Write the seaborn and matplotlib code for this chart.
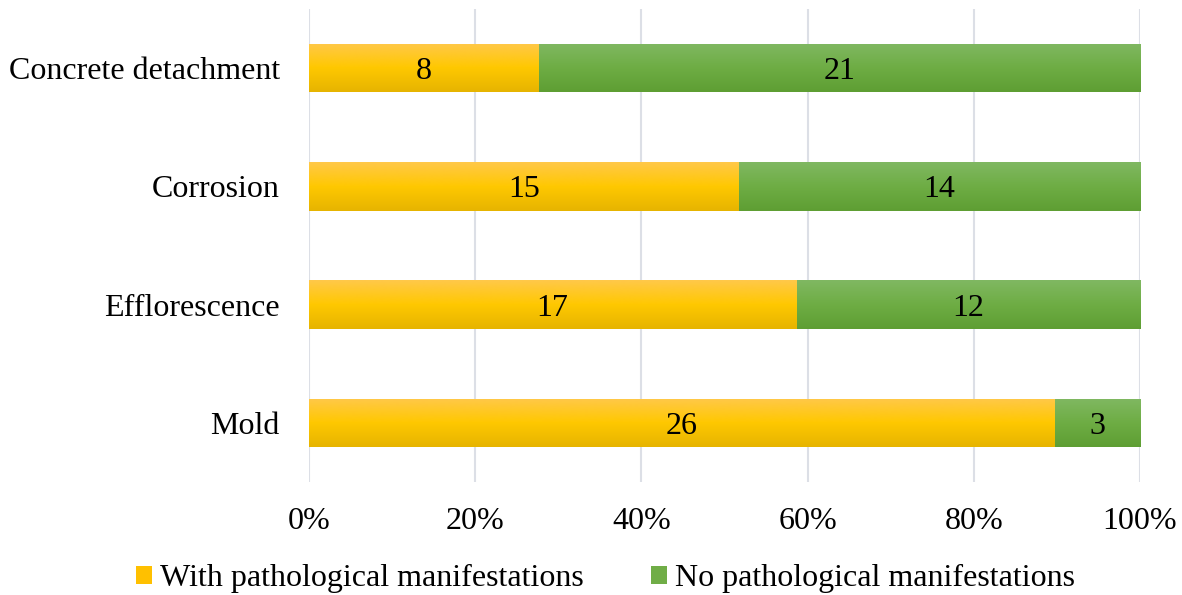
import numpy as np
import pandas as pd
import matplotlib
matplotlib.use("Agg")
import matplotlib.pyplot as plt
import seaborn as sns
from matplotlib.colors import LinearSegmentedColormap
from matplotlib.patches import Patch

categories = ["Concrete detachment", "Corrosion", "Efflorescence", "Mold"]
with_path = [8, 15, 17, 26]
no_path = [21, 14, 12, 3]
xticks = [0, 20, 40, 60, 80, 100]
xticklabels = ["0%", "20%", "40%", "60%", "80%", "100%"]
series_names = ["With pathological manifestations", "No pathological manifestations"]

sns.set_theme(style="white")
plt.rcParams['font.family'] = ['Liberation Serif', 'DejaVu Serif']
plt.rcParams['text.color'] = 'black'
plt.rcParams['xtick.color'] = 'black'
plt.rcParams['ytick.color'] = 'black'

FS = 23

totals = [a + b for a, b in zip(with_path, no_path)]
df = pd.DataFrame({
    "cat": categories,
    "with_pct": [a / t * 100 for a, t in zip(with_path, totals)],
    "total_pct": [100.0] * len(categories),
})

fig, ax = plt.subplots(figsize=(11.82, 5.95), dpi=100)
fig.subplots_adjust(left=0.2614, right=0.9645, top=0.985, bottom=0.19)

green_cmap = LinearSegmentedColormap.from_list("g", ["#5E9E33", "#6EAD44", "#80B862"])
yellow_cmap = LinearSegmentedColormap.from_list("y", ["#E6B400", "#FFC800", "#FFC84A"])

sns.barplot(data=df, y="cat", x="total_pct", orient="h", color="#70AD47", width=0.41, ax=ax,
            zorder=2, linewidth=0, edgecolor="none")
n = len(categories)
sns.barplot(data=df, y="cat", x="with_pct", orient="h", color="#FFC000", width=0.41, ax=ax,
            zorder=3, linewidth=0, edgecolor="none")

# gradient fills clipped to each bar
grad = np.linspace(1, 0, 256).reshape(-1, 1)
for i, p in enumerate(ax.patches):
    x0, y0 = p.get_x(), p.get_y()
    w, h = p.get_width(), p.get_height()
    cmap = green_cmap if i < n else yellow_cmap
    im = ax.imshow(grad, extent=[x0, x0 + w, y0 + h, y0], cmap=cmap, aspect="auto",
                   origin="upper", zorder=3.1 if i >= n else 2.1, vmin=0, vmax=1)
    im.set_clip_path(p)

ax.set_xlim(0, 100)
ax.set_ylim(n - 0.5, -0.5)

# labels
for i in range(n):
    wp = df["with_pct"][i]
    ax.text(wp / 2, i, str(with_path[i]), ha="center", va="center_baseline", fontsize=FS, zorder=10, color="black")
    ax.text(wp + (100 - wp) / 2, i, str(no_path[i]), ha="center", va="center_baseline", fontsize=FS, zorder=10, color="black")

ax.set_xticks(xticks)
ax.set_xticklabels(xticklabels, fontsize=FS)
ax.tick_params(axis="y", labelsize=FS, pad=21, length=0)
ax.tick_params(axis="x", pad=18, length=0)
ax.set_xlabel("")
ax.set_ylabel("")
ax.grid(axis="x", color="#DCDFE6", linewidth=1.5, zorder=0)
ax.set_axisbelow(True)
for s in ax.spines.values():
    s.set_visible(False)

handles = [Patch(facecolor="#FFC000", edgecolor="none"), Patch(facecolor="#70AD47", edgecolor="none")]
fig.legend(handles, series_names, loc="lower center", bbox_to_anchor=(0.512, -0.045), ncol=2, frameon=False,
           fontsize=FS, handlelength=0.5, handleheight=0.5, handletextpad=0.25, columnspacing=2.1)

fig.savefig("out.png", dpi=100)
